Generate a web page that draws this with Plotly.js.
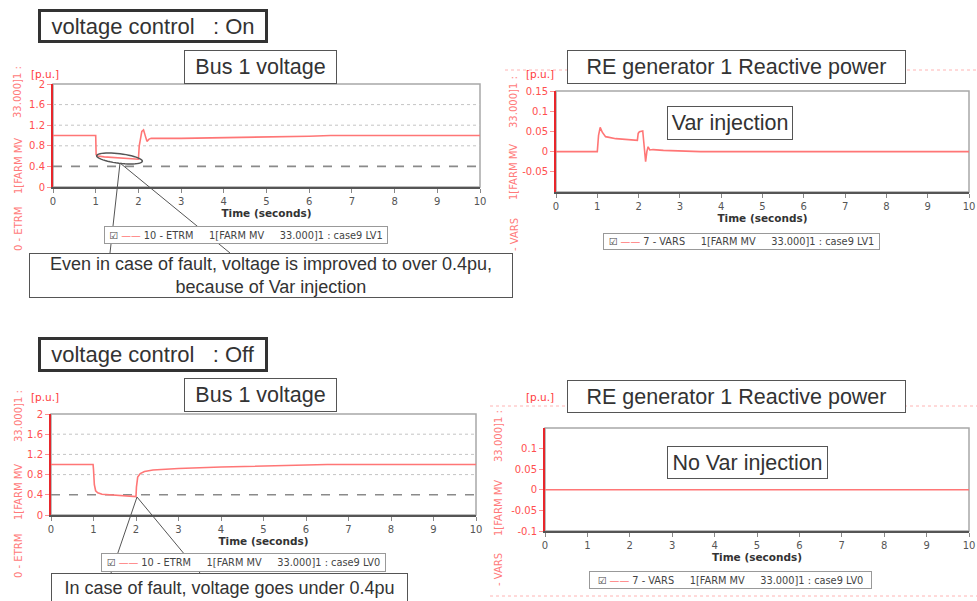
<!DOCTYPE html>
<html><head><meta charset="utf-8">
<script src="https://cdn.plot.ly/plotly-3.0.1.min.js"></script>
<style>html,body{margin:0;padding:0;background:#fff;}#chart{width:977px;height:601px;}</style>
</head><body><div id="chart"></div>
<script>
// ---------- data ----------
const timeEtrmOn = [0, 1.0, 1.01, 1.05, 1.2, 1.5, 1.8, 2.0, 2.02, 2.05, 2.08, 2.12, 2.16, 2.2, 2.25, 2.3, 3, 4, 5, 6, 6.5, 7, 8, 9, 10];
const etrmOn     = [1.0, 1.0, 0.63, 0.6, 0.585, 0.565, 0.55, 0.54, 0.8, 0.98, 1.08, 1.11, 1.0, 0.886, 0.93, 0.945, 0.945, 0.955, 0.97, 0.985, 1.0, 1.0, 1.0, 1.0, 1.0];
const timeVarsOn = [0, 1.0, 1.03, 1.07, 1.12, 1.2, 1.45, 1.97, 1.99, 2.02, 2.1, 2.13, 2.17, 2.2, 2.23, 2.27, 2.35, 2.6, 3, 3.5, 10];
const varsOn     = [0, 0, 0.04, 0.06, 0.048, 0.037, 0.032, 0.028, 0.045, 0.049, 0.051, 0.02, -0.025, 0.0, 0.012, 0.004, 0.005, 0.003, 0.001, 0, 0];
const timeEtrmOff = [0, 0.99, 1.0, 1.02, 1.05, 1.1, 1.2, 1.5, 1.8, 2.0, 2.01, 2.04, 2.1, 2.2, 2.4, 3, 4, 5, 6, 6.5, 7, 8, 9, 10];
const etrmOff     = [1.0, 1.0, 0.9, 0.6, 0.48, 0.44, 0.41, 0.39, 0.375, 0.365, 0.55, 0.75, 0.82, 0.86, 0.89, 0.92, 0.95, 0.975, 0.99, 1.0, 1.0, 1.0, 1.0, 1.0];
const timeVarsOff = [0, 10];
const varsOff     = [0, 0];

const xTicks = [0,1,2,3,4,5,6,7,8,9,10];
const xTickText = ['0','1','2','3','4','5','6','7','8','9','10'];
const voltTicks = [0,0.4,0.8,1.2,1.6,2];
const voltTickText = ['0','0.4','0.8','1.2','1.6','2'];
const varsTicksOn = [-0.05,0,0.05,0.1,0.15];
const varsTickTextOn = ['-0.05','0','0.05','0.1','0.15'];
const varsTicksOff = [-0.1,-0.05,0,0.05,0.1];
const varsTickTextOff = ['-0.1','-0.05','0','0.05','0.1'];
const thresholdPu = 0.4;

const legendOn1 = '10 - ETRM', legendOn2 = '7 - VARS';
const busLabel = '1[FARM MV', kvLabel = '33.000]1 :';

// ---------- helpers ----------
const W = 977, H = 601;
const px = x => x / W, py = y => 1 - y / H;
const LINE = '#ff7676';
const panels = [
  {x0:53, x1:480, y0:84,  y1:187},
  {x0:556,x1:969, y0:91,  y1:192},
  {x0:51, x1:476, y0:414, y1:515},
  {x0:545,x1:969, y0:428, y1:531}
];
function xa(p, anchor){
  return {domain:[px(p.x0),px(p.x1)], anchor, range:[0,10], tickmode:'array', tickvals:xTicks, ticktext:xTickText,
    showgrid:false, zeroline:false, showline:true, linecolor:'#555', linewidth:2, ticks:'outside', ticklen:4, tickcolor:'#888',
    tickfont:{family:'DejaVu Sans', size:10, color:'#555'}, ticklabeloverflow:'allow',
    title:{text:'<b>Time (seconds)</b>', font:{family:'DejaVu Sans', size:10.5, color:'#333'}, standoff:3},
    automargin:false, fixedrange:true};
}
function ya(p, anchor, range, tv, tt){
  return {domain:[py(p.y1),py(p.y0)], anchor, range, tickmode:'array', tickvals:tv, ticktext:tt,
    showgrid:false, zeroline:false,
    showline:true, linecolor:'#e8262b', linewidth:2, ticks:'outside', ticklen:4, tickcolor:'#ff9090',
    tickfont:{family:'DejaVu Sans', size:10, color:'#ff4f4f'}, automargin:false, fixedrange:true};
}
function box(text, x0,y0,x1,y1, size, bw, bc){
  return {xref:'paper', yref:'paper', x:px(x0), y:py(y0), xanchor:'left', yanchor:'top',
    width:x1-x0-2*bw, height:y1-y0-2*bw, text, showarrow:false,
    font:{family:'Liberation Sans', size, color:'#333'}, bordercolor:bc||'#555', borderwidth:bw, borderpad:0,
    bgcolor:'#fff', align:'center', valign:'middle'};
}
function rot(text, x, y){
  return {xref:'paper', yref:'paper', x:px(x), y:py(y), xanchor:'center', yanchor:'middle', textangle:-90,
    text, showarrow:false, font:{family:'DejaVu Sans', size:10, color:'#ff7a7a'}};
}
function lab(x, y){
  return {xref:'paper', yref:'paper', x:px(x), y:py(y), xanchor:'left', yanchor:'middle', text:'[p.u.]',
    showarrow:false, font:{family:'DejaVu Sans', size:10.5, color:'#ff3a3a'}};
}
const nb = n => '\u00a0'.repeat(n);
function legend(name, cs, x0,y0,x1,y1){
  const t = '<span style="color:#444">\u2611</span> <span style="color:#ff7676">\u2014\u2014</span> ' + name + nb(5) + busLabel + nb(5) + '33.000]1 : ' + cs;
  return {xref:'paper', yref:'paper', x:px(x0), y:py(y0), xanchor:'left', yanchor:'top',
    width:x1-x0-2, height:y1-y0-2, text:t, showarrow:false, align:'center', valign:'middle',
    font:{family:'DejaVu Sans', size:9.8, color:'#444'}, bordercolor:'#999', borderwidth:1, borderpad:0, bgcolor:'#fff'};
}
function pline(x0,y0,x1,y1,color,width,dash){
  return {type:'line', xref:'paper', yref:'paper', x0:px(x0), y0:py(y0), x1:px(x1), y1:py(y1),
    line:{color, width, dash:dash||'solid'}, layer:'above'};
}
function ellipsePath(cx, cy, rx, ry, deg){
  const a = deg*Math.PI/180; let d = '';
  for(let i=0;i<=48;i++){
    const t = i/48*2*Math.PI;
    const x = cx + rx*Math.cos(t)*Math.cos(a) - ry*Math.sin(t)*Math.sin(a);
    const y = cy + rx*Math.cos(t)*Math.sin(a) + ry*Math.sin(t)*Math.cos(a);
    d += (i?'L':'M') + px(x).toFixed(5) + ',' + py(y).toFixed(5);
  }
  return d + 'Z';
}

// ---------- traces ----------
const tr = (x,y,xa_,ya_,name) => ({x, y, xaxis:xa_, yaxis:ya_, type:'scatter', mode:'lines', name,
  line:{color:LINE, width:1.6}, hoverinfo:'skip', showlegend:false});
const data = [
  tr(timeEtrmOn, etrmOn, 'x', 'y', legendOn1),
  tr(timeVarsOn, varsOn, 'x2', 'y2', legendOn2),
  tr(timeEtrmOff, etrmOff, 'x3', 'y3', legendOn1),
  tr(timeVarsOff, varsOff, 'x4', 'y4', legendOn2)
];

// ---------- shapes ----------
const shapes = [];
['', '2', '3', '4'].forEach(s => {
  shapes.push({type:'rect', xref:'x'+s+' domain', yref:'y'+s+' domain', x0:0, x1:1, y0:0, y1:1,
    line:{color:'#a8a8a8', width:1.5}, layer:'below'});
});
['', '3'].forEach(s => {
  voltTicks.filter(v => v > 0 && v < 2 && v !== thresholdPu).forEach(v => {
    shapes.push({type:'line', xref:'x'+s+' domain', yref:'y'+s, x0:0, x1:1, y0:v, y1:v,
      line:{color:'#c4c4c4', width:1, dash:'dot'}, layer:'below'});
  });
  shapes.push({type:'line', xref:'x'+s+' domain', yref:'y'+s, x0:0, x1:1, y0:thresholdPu, y1:thresholdPu,
    line:{color:'#8a8a8a', width:1.6, dash:'dash'}, layer:'below'});
});
// pink dotted frame lines
shapes.push(pline(505,70,977,70,'#ffb4b4',1,'dot'));
shapes.push(pline(490,406,977,406,'#ffb4b4',1,'dot'));
shapes.push(pline(490,596,977,596,'#ffb4b4',1,'dot'));
// ellipse + callout lines
shapes.push({type:'path', xref:'paper', yref:'paper', path:ellipsePath(119.5,158.5,23,4.8,7), line:{color:'#555', width:1.5}, layer:'above'});
shapes.push(pline(120,163,110,253,'#555',1));
shapes.push(pline(120,163,230,253,'#555',1));
shapes.push(pline(137,497,111,573,'#555',1));
shapes.push(pline(137,497,200,573,'#555',1));

// ---------- annotations ----------
const annotations = [
  box('voltage\u00a0control\u00a0\u00a0\u00a0:\u00a0On', 38,9,268,43, 22, 3, '#333'),
  box('voltage\u00a0control\u00a0\u00a0\u00a0:\u00a0Off', 38,337,268,372, 22, 3, '#333'),
  box('Bus 1 voltage', 184,50,337,84, 21.5, 1),
  box('Bus 1 voltage', 184,378,337,412, 21.5, 1),
  box('RE generator 1 Reactive power', 567,50,906,84, 21.5, 1),
  box('RE generator 1 Reactive power', 567,380,906,413, 21.5, 1),
  box('Var injection', 667,106,793,140, 21.5, 1),
  box('No Var injection', 667,446,828,479, 21.5, 1),
  box('Even in case of fault, voltage is improved to over 0.4pu,<br>because of Var injection', 29,253,513,298, 18, 1),
  box('In case of fault, voltage goes under 0.4pu', 51,573,408,603, 18, 1),
  legend(legendOn1, 'case9 LV1', 104,226,388,244),
  legend(legendOn2, 'case9 LV1', 603,233,880,250),
  legend(legendOn1, 'case9 LV0', 101,553,386,572),
  legend(legendOn2, 'case9 LV0', 589,571,872,589),
  lab(29,74), lab(524,74), lab(29,397), lab(524,397),
  rot(kvLabel,18,92), rot(busLabel,18,166), rot('0 - ETRM',18,229),
  rot(kvLabel,514,102), rot(busLabel,514,172), rot('- VARS',514,235),
  rot(kvLabel,18,416), rot(busLabel,18,492), rot('0 - ETRM',18,556),
  rot(kvLabel,498,436), rot(busLabel,498,508), rot('- VARS',498,570)
];

const layout = {
  width:W, height:H, margin:{l:0,r:0,t:0,b:0}, paper_bgcolor:'#fff', plot_bgcolor:'#fff', showlegend:false,
  xaxis: xa(panels[0],'y'), yaxis: ya(panels[0],'x',[0,2],voltTicks,voltTickText),
  xaxis2: xa(panels[1],'y2'), yaxis2: ya(panels[1],'x2',[-0.1,0.15],varsTicksOn,varsTickTextOn),
  xaxis3: xa(panels[2],'y3'), yaxis3: ya(panels[2],'x3',[0,2],voltTicks,voltTickText),
  xaxis4: xa(panels[3],'y4'), yaxis4: ya(panels[3],'x4',[-0.1,0.15],varsTicksOff,varsTickTextOff),
  shapes, annotations
};
Plotly.newPlot('chart', data, layout, {staticPlot:true, displayModeBar:false});
</script></body></html>
